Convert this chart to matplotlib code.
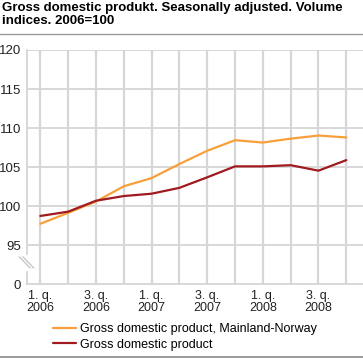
import numpy as np
import matplotlib
matplotlib.use("Agg")
import matplotlib.pyplot as plt
from matplotlib.lines import Line2D

plt.rcParams['font.family'] = ['Liberation Sans', 'DejaVu Sans']

# quarters 2006Q1 .. 2008Q4
quarters = ['1. q.\n2006', '2. q.\n2006', '3. q.\n2006', '4. q.\n2006',
            '1. q.\n2007', '2. q.\n2007', '3. q.\n2007', '4. q.\n2007',
            '1. q.\n2008', '2. q.\n2008', '3. q.\n2008', '4. q.\n2008']
mainland = [97.75, 99.15, 100.6, 102.55, 103.6, 105.4, 107.1, 108.45, 108.15, 108.65, 109.05, 108.8]
gdp = [98.75, 99.3, 100.7, 101.3, 101.6, 102.35, 103.7, 105.1, 105.1, 105.25, 104.55, 105.9]

ytick_vals = [90, 95, 100, 105, 110, 115, 120]   # 90 is where the broken axis shows 0
ytick_labels = ['0', '95', '100', '105', '110', '115', '120']

orange = '#f7a03a'
darkred = '#a01a1f'
grid = '#d6d6d6'

fig = plt.figure(figsize=(3.63, 3.58), dpi=100)
ax = fig.add_axes([26.7 / 363, 1 - 284.3 / 358, 1 - 26.7 / 363, 234.3 / 358])

x = np.arange(len(quarters))
ax.plot(x, mainland, color=orange, lw=1.6, solid_capstyle='round', zorder=3,
        label='Gross domestic product, Mainland-Norway')
ax.plot(x, gdp, color=darkred, lw=1.6, solid_capstyle='round', zorder=3,
        label='Gross domestic product')

ax.set_xlim(-0.49, 11.6)
ax.set_ylim(90, 120)

ax.set_xticks(x)
ax.set_xticklabels([q if i % 2 == 0 else '' for i, q in enumerate(quarters)],
                   fontsize=9, linespacing=1.0, multialignment='center')
ax.set_yticks(ytick_vals)
ax.set_yticklabels(ytick_labels, fontsize=9.5)
ax.tick_params(length=0, pad=4, colors='#222222')

for v in ytick_vals[1:]:
    ax.axhline(v, color=grid, lw=1.3, zorder=1)
for xi in x:
    ax.axvline(xi, color=grid, lw=1.6, zorder=1)

for s in ['top', 'right']:
    ax.spines[s].set_visible(False)
ax.spines['bottom'].set_color(grid)
ax.spines['bottom'].set_linewidth(1.3)
ax.spines['left'].set_color(grid)
ax.spines['left'].set_linewidth(1.3)
ax.spines['left'].set_bounds(93.9, 120)
ax.plot([-0.49, -0.49], [90, 91.6], color=grid, lw=1.3, clip_on=False)

# axis break marks
for dx in (0.0, 0.13):
    ax.plot([-0.75 + dx, -0.37 + dx], [93.5, 92.1], color='#c8c8c8', lw=1.0,
            clip_on=False, transform=ax.transData)

# title
fig.text(2 / 363, 1 - 2 / 358, 'Gross domestic produkt. Seasonally adjusted. Volume\nindices. 2006=100',
         ha='left', va='top', fontsize=9.5, fontweight='bold', linespacing=1.15)
fig.add_artist(Line2D([0, 1], [1 - 33.5 / 358, 1 - 33.5 / 358], color='#9a9a9a', lw=1.0))
fig.add_artist(Line2D([0, 1], [1 - 356.5 / 358, 1 - 356.5 / 358], color='#8a8a8a', lw=1.2))

fig.legend(loc='upper left', bbox_to_anchor=(53 / 363, 1 - 323 / 358), frameon=False,
           fontsize=9, handlelength=1.85, handletextpad=0.35, labelspacing=0.3,
           borderpad=0, borderaxespad=0)

fig.savefig('out.png', dpi=100)
